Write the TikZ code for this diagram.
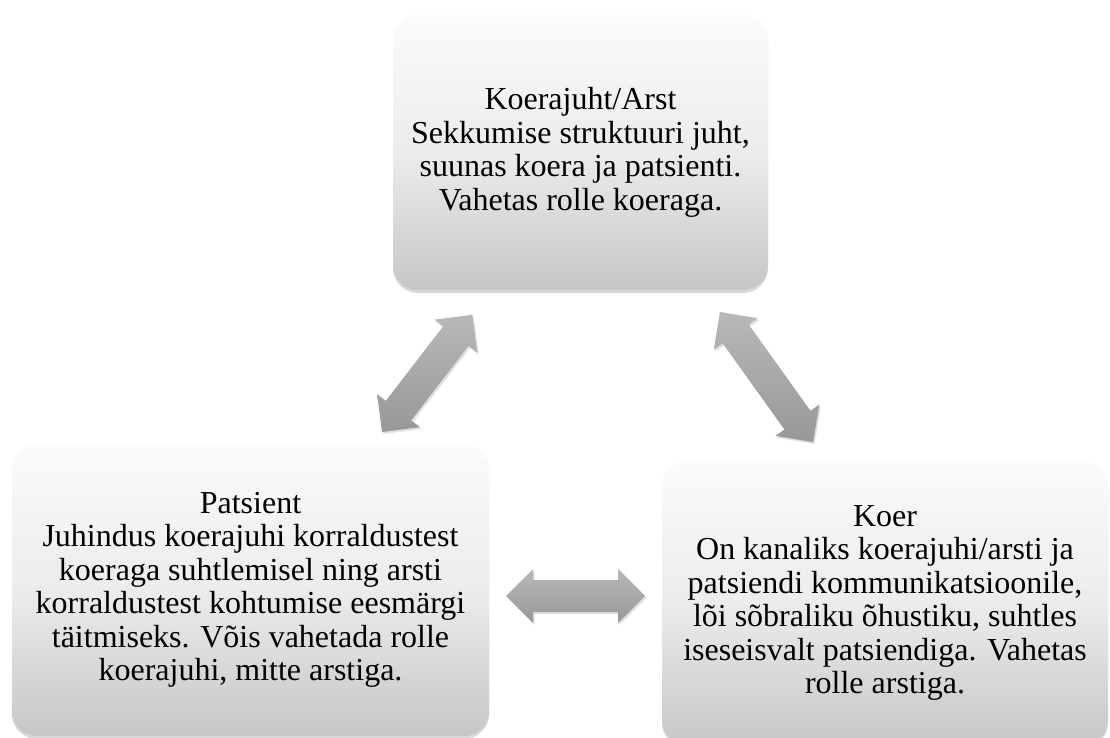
\documentclass[tikz,border=0pt]{standalone}
\usepackage{fontspec}
\setmainfont{Liberation Serif}
\usetikzlibrary{shadows}
\definecolor{boxbot}{HTML}{C6C6C6}
\definecolor{boxmid}{HTML}{ECECEC}
\definecolor{boxtop}{HTML}{FBFBFB}
\definecolor{arrtop}{HTML}{B8B8B8}
\definecolor{arrbot}{HTML}{989898}
\tikzset{
  rolebox/.style={rectangle, rounded corners=25pt, top color=boxtop, bottom color=boxbot, middle color=boxmid,
    draw=none, align=center, inner sep=0pt,
    font=\fontsize{32}{33.5}\selectfont,
    drop shadow={shadow xshift=0pt, shadow yshift=-3pt, opacity=0.25, fill=black!60}},
  arrfill/.style={top color=arrtop, bottom color=arrbot, draw=none,
    drop shadow={shadow xshift=1.5pt, shadow yshift=-2pt, opacity=0.12, fill=black}},
  pics/dblarrow/.style={code={
    \path[arrfill] (0,0) -- (27,27) -- (27,16) -- (#1-27,16) -- (#1-27,27) -- (#1,0)
      -- (#1-27,-27) -- (#1-27,-16) -- (27,-16) -- (27,-27) -- cycle;
  }}
}
\begin{document}
\begin{tikzpicture}[x=1pt,y=-1pt]
\useasboundingbox (0,0) rectangle (1110,738);
\fill[white] (0,0) rectangle (1110,738);

\node[rolebox, minimum width=375pt, minimum height=275pt] (arst) at (580.5,152.5)
  {Koerajuht/Arst\\Sekkumise struktuuri juht,\\suunas koera ja patsienti.\\Vahetas rolle koeraga.};
\node[rolebox, minimum width=477pt, minimum height=292pt] (pats) at (250.5,590)
  {Patsient\\Juhindus koerajuhi korraldustest\\koeraga suhtlemisel ning arsti\\korraldustest kohtumise eesmärgi\\täitmiseks. Võis vahetada rolle\\koerajuhi, mitte arstiga.};
\node[rolebox, minimum width=446pt, minimum height=284pt] (koer) at (885,603)
  {Koer\\On kanaliks koerajuhi/arsti ja\\patsiendi kommunikatsioonile,\\lõi sõbraliku õhustiku, suhtles\\iseseisvalt patsiendiga. Vahetas\\rolle arstiga.};

\pic[rotate=52.4] (a1) at (382,432) {dblarrow=148};
\pic[rotate=-54.4] (a2) at (720,312) {dblarrow=160};
\pic (a3) at (506,596) {dblarrow=139};
\end{tikzpicture}
\end{document}
